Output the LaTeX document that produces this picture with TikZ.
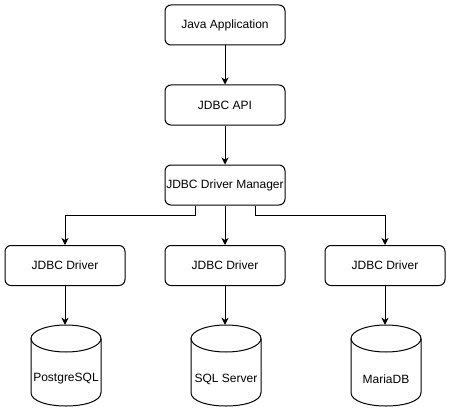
\documentclass[tikz,border=0pt]{standalone}
\usepackage{fontspec}
\setmainfont{Liberation Sans}
\usetikzlibrary{arrows.meta}
\begin{document}
\begin{tikzpicture}[x=1pt,y=-1pt,
 lbl/.style={font=\fontsize{12}{14}\selectfont},
 box/.style={draw,rounded corners=6pt,minimum width=120pt,minimum height=40pt,lbl,line width=1pt,inner sep=0pt},
 dbbox/.style={minimum width=70pt,minimum height=81pt,inner sep=0pt},
 arr/.style={-{Stealth[length=7pt,width=7pt,inset=2pt]},line width=1pt},
 dbcyl/.pic={
   \draw[line width=1pt] (-35,-27) -- (-35,27) .. controls (-35,45) and (35,45) .. (35,27) -- (35,-27);
   \draw[line width=1pt] (0,-27) ellipse [x radius=35,y radius=13.5];
 }
]
\useasboundingbox[fill=white] (0,0) rectangle (457,417);
\node[box] (java) at (225,25) {Java Application};
\node[box] (api) at (225,105) {JDBC API};
\node[box] (mgr) at (225,185) {JDBC Driver Manager};
\node[box] (d1) at (65,265.5) {JDBC Driver};
\node[box] (d2) at (225,265.5) {JDBC Driver};
\node[box] (d3) at (385,265.5) {JDBC Driver};
\node[dbbox] (c1) at (66,365.5) {};
\node[dbbox] (c2) at (226,365.5) {};
\node[dbbox] (c3) at (386,365.5) {};
\pic at (c1) {dbcyl};
\pic at (c2) {dbcyl};
\pic at (c3) {dbcyl};
\node[lbl] (t1) at (66,379) {PostgreSQL};
\node[lbl] (t2) at (226,379) {SQL Server};
\node[lbl] (t3) at (386,379) {MariaDB};
\draw[arr] (java) -- (api);
\draw[arr] (api) -- (mgr);
\draw[arr] (mgr) -- (d2);
\draw[arr] ([xshift=-30pt]mgr.south) -- ++(0,10) -| (d1.north);
\draw[arr] ([xshift=30pt]mgr.south) -- ++(0,10) -| (d3.north);
\draw[arr] (d1.south) -- (d1.south |- c1.north);
\draw[arr] (d2.south) -- (d2.south |- c2.north);
\draw[arr] (d3.south) -- (d3.south |- c3.north);
\end{tikzpicture}
\end{document}
